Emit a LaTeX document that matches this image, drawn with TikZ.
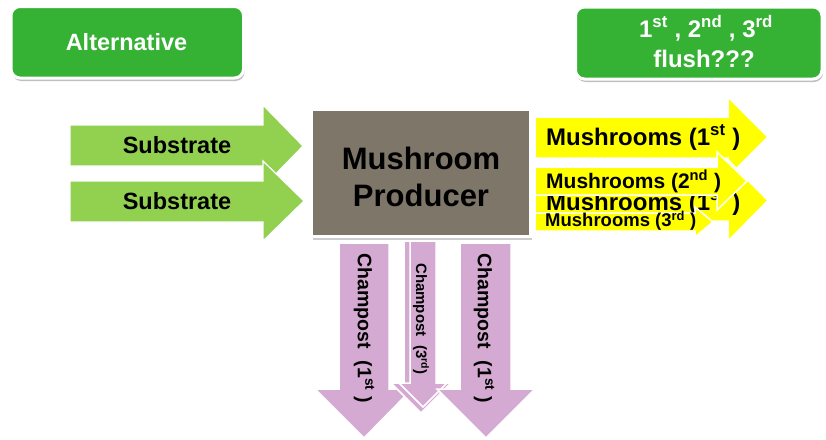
\documentclass[tikz,border=0pt]{standalone}
\usepackage{fontspec}
\setmainfont{Liberation Sans}
\usetikzlibrary{shadows}

\definecolor{tagGreen}{RGB}{53,178,52}
\definecolor{feedGreen}{RGB}{146,208,80}
\definecolor{cropYellow}{RGB}{255,255,0}
\definecolor{compostPink}{RGB}{213,170,210}
\definecolor{producerBrown}{RGB}{127,118,106}

\begin{document}
\begin{tikzpicture}[x=1pt,y=-1pt,
  tagbox/.style={fill=tagGreen, draw=white, line width=3pt, rounded corners=9pt,
    drop shadow={shadow xshift=1pt, shadow yshift=-3pt, fill=black!50, opacity=0.5}},
  producerbox/.style={fill=producerBrown, draw=white, line width=3pt,
    drop shadow={shadow xshift=1pt, shadow yshift=-3pt, fill=black!50, opacity=0.4}},
  feedarrow/.style={fill=feedGreen, draw=white, line width=1.2pt, line join=miter},
  croparrow/.style={fill=cropYellow, draw=white, line width=1.5pt, line join=miter},
  compostarrow/.style={fill=compostPink, draw=white, line width=1.5pt, line join=miter},
  txt/.style={font=\bfseries\fontsize{#1}{#1}\selectfont, inner sep=0pt, text=black},
  wtxt/.style={font=\bfseries\fontsize{#1}{#1}\selectfont, inner sep=0pt, text=white}
]
\useasboundingbox (0,0) rectangle (826,439);

% header tags
\path[tagbox] (11,6.5) rectangle (243.5,78);
\node[wtxt=23.5, anchor=base] (alt) at (126.5,50) {Alternative};
\path[tagbox] (575.5,7) rectangle (822,79);
\node[wtxt=24, anchor=base] (flushes) at (706,37) {1\textsuperscript{st} , 2\textsuperscript{nd} , 3\textsuperscript{rd}};
\node[wtxt=24, anchor=base] (flush) at (704,67) {flush???};

% producer
\path[producerbox] (311.5,109) rectangle (530.5,236.5);
\node[align=center, font=\bfseries\fontsize{31}{37}\selectfont, inner sep=0pt] (producer) at (421,176.5) {Mushroom\\Producer};

% substrate inputs
\path[feedarrow] (70,125) -- (263,125) -- (263,105) -- (303,146) -- (263,187) -- (263,166) -- (70,166) -- cycle;
\node[txt=23.5, anchor=base] (sub1) at (177,153) {Substrate};
\path[feedarrow] (70,181) -- (263,181) -- (263,161) -- (304,201) -- (263,241) -- (263,222) -- (70,222) -- cycle;
\node[txt=23.5, anchor=base] (sub2) at (177,209) {Substrate};

% mushroom outputs (the second first-flush arrow sits partly hidden behind the others)
\path[croparrow] (535,117) -- (728,117) -- (728,97) -- (768,137) -- (728,177) -- (728,158) -- (535,158) -- cycle;
\node[txt=24, anchor=base west] (mush1) at (546,145) {Mushrooms (1\textsuperscript{st} )};
\path[croparrow] (535,180) -- (728,180) -- (728,160) -- (768,200.5) -- (728,241) -- (728,221) -- (535,221) -- cycle;
\node[txt=24, anchor=base west] (mush1b) at (546,210) {Mushrooms (1\textsuperscript{st} )};
\path[croparrow] (535,167) -- (717,167) -- (717,152) -- (747,181) -- (717,210) -- (717,195) -- (535,195) -- cycle;
\node[txt=21, anchor=base west] (mush2) at (546,188.3) {Mushrooms (2\textsuperscript{nd} )};
\path[croparrow] (535,213) -- (695,213) -- (695,207) -- (713,222) -- (695,237) -- (695,231) -- (535,231) -- cycle;
\node[txt=18.5, anchor=base west] (mush3) at (545,226.7) {Mushrooms (3\textsuperscript{rd} )};

% champost outputs
\path[compostarrow] (339,243) -- (389,243) -- (389,389) -- (412,389) -- (364,438) -- (315,389) -- (339,389) -- cycle;
\node[txt=19.5, rotate=-90, anchor=west] (comp1) at (364,253) {Champost\hspace{0.35em} (1\textsuperscript{st} )};
\path[compostarrow] (404,241) -- (436,241) -- (436,383) -- (451,383) -- (421,413) -- (391,383) -- (404,383) -- cycle;
\path[compostarrow] (410,241) -- (436,241) -- (436,383) -- (447,383) -- (423,407) -- (399,383) -- (410,383) -- cycle;
\node[txt=15, rotate=-90, anchor=west] (comp3) at (421,263) {Champost\hspace{0.3em} (3\textsuperscript{rd})};
\path[compostarrow] (460,243) -- (511,243) -- (511,389) -- (535,389) -- (486,438) -- (437,389) -- (460,389) -- cycle;
\node[txt=19.5, rotate=-90, anchor=west] (comp1b) at (484,253) {Champost\hspace{0.35em} (1\textsuperscript{st} )};
\end{tikzpicture}
\end{document}
